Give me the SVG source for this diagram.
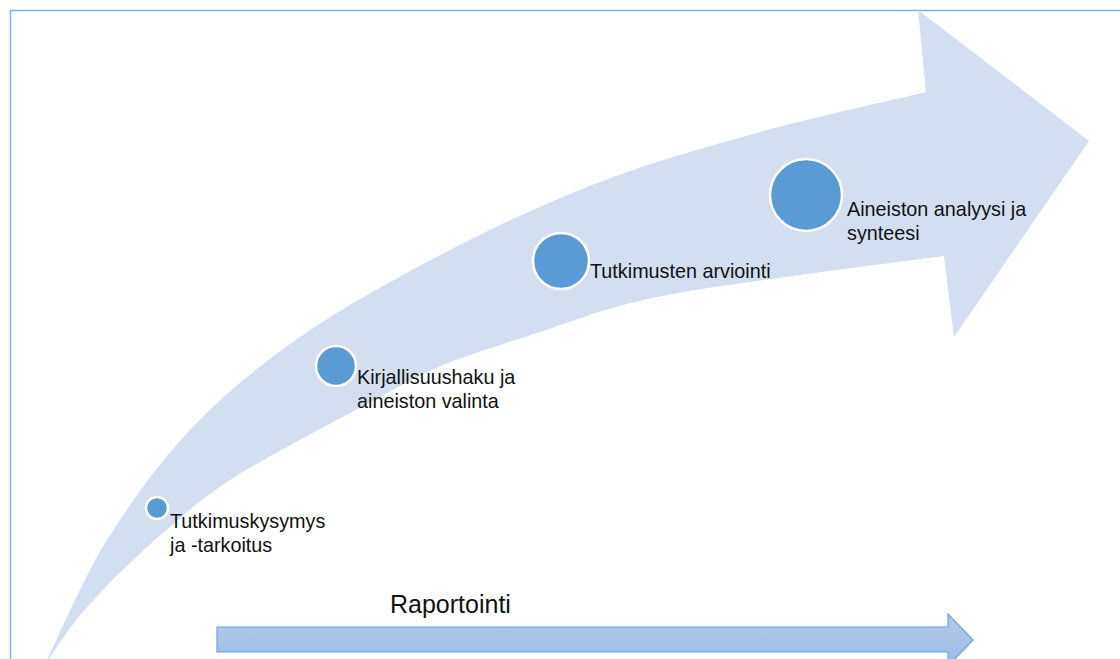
<svg xmlns="http://www.w3.org/2000/svg" width="1120" height="659" viewBox="0 0 1120 659">
  <defs>
    <linearGradient id="barFill" x1="0" y1="0" x2="0" y2="1">
      <stop offset="0" stop-color="#b2cbec"/>
      <stop offset="1" stop-color="#9bbbe4"/>
    </linearGradient>
    <style>
      .frame { fill: none; stroke: #7eb1e4; stroke-width: 1.5; }
      .sweep { fill: #d3dff0; }
      .bar { fill: url(#barFill); stroke: #6fa2d9; stroke-width: 1.2; }
      .dot { fill: #5b9bd5; stroke: #ffffff; stroke-width: 2.5; }
      .label { font-family: "Liberation Sans", Arial, sans-serif; font-size: 19.8px; fill: #111111; }
      .title { font-family: "Liberation Sans", Arial, sans-serif; font-size: 25px; fill: #111111; }
    </style>
  </defs>

  <rect width="1120" height="659" fill="#ffffff"/>
  <rect class="frame" x="10.5" y="10.5" width="1120" height="660"/>

  <!-- process arrows -->
  <g id="connectors">
    <path class="sweep" d="M 43,668
      C 54,647 83,578 107,540
      C 131,502 158,464 190,430
      C 222,396 257,367 300,337
      C 343,307 400,276 450,250
      C 500,224 548,202 600,182
      C 652,162 706,147 760,132
      C 814,117 898,99 926,92
      L 918,10 L 1089,141 L 954,337 L 944,256
      C 920,259 850,268 800,275
      C 750,282 686,290 643,300
      C 600,310 573,321 540,332
      C 507,343 475,352 443,365
      C 411,379 386,394 350,413
      C 315,432 263,459 230,480
      C 198,501 179,519 155,540
      C 131,561 106,586 87,607
      C 68,628 50,658 43,668 Z"/>
    <path class="bar" d="M 217,627 L 948,627 L 948,614 L 973,640 L 948,666 L 948,652 L 217,652 Z"/>
  </g>

  <g id="step-question">
    <circle class="dot" cx="157" cy="508" r="11"/>
    <text class="label" x="170" y="528">Tutkimuskysymys</text>
    <text class="label" x="170" y="552">ja -tarkoitus</text>
  </g>

  <g id="step-search">
    <circle class="dot" cx="336" cy="366" r="20"/>
    <text class="label" x="357" y="384">Kirjallisuushaku ja</text>
    <text class="label" x="357" y="408">aineiston valinta</text>
  </g>

  <g id="step-appraisal">
    <circle class="dot" cx="561" cy="261" r="28"/>
    <text class="label" x="590" y="278">Tutkimusten arviointi</text>
  </g>

  <g id="step-synthesis">
    <circle class="dot" cx="806" cy="195" r="36"/>
    <text class="label" x="847" y="216">Aineiston analyysi ja</text>
    <text class="label" x="847" y="240">synteesi</text>
  </g>

  <g id="reporting">
    <text class="title" x="390" y="613">Raportointi</text>
  </g>
</svg>
